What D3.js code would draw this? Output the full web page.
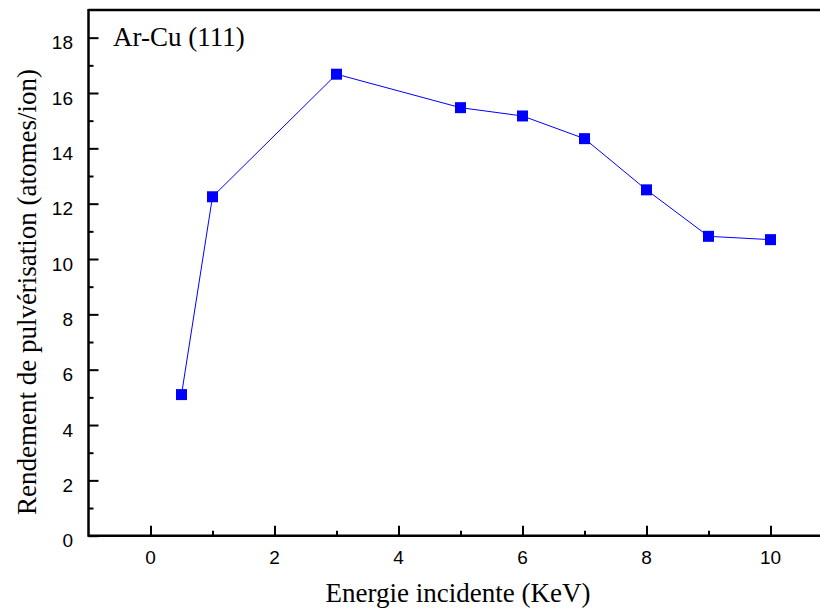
<!DOCTYPE html>
<html>
<head>
<meta charset="utf-8">
<script src="https://cdn.jsdelivr.net/npm/d3@7"></script>
<style>
  html, body { margin: 0; padding: 0; background: #fff; }
  svg { display: block; }
  .tick-label { font-family: "Liberation Sans", Arial, sans-serif; font-size: 19px; }
  .title { font-family: "Liberation Serif", "Times New Roman", Times, serif; font-size: 27px; }
</style>
</head>
<body>
<svg id="chart" width="820" height="610"></svg>
<script>
// Sputtering yield of Cu(111) under Ar bombardment vs incident energy
const energy = [0.5, 1, 3, 5, 6, 7, 8, 9, 10];
const yieldVals = [5.1, 12.25, 16.68, 15.47, 15.17, 14.35, 12.5, 10.82, 10.7];
const xTicks = [0, 2, 4, 6, 8, 10];
const yTicks = [0, 2, 4, 6, 8, 10, 12, 14, 16, 18];
const xMinor = [1, 3, 5, 7, 9];
const yMinor = [1, 3, 5, 7, 9, 11, 13, 15, 17];

const svg = d3.select("#chart");
const plotLeft = 88.5, plotTop = 10, plotBottom = 535.7;

const x = d3.scaleLinear().domain([-1, 11]).range([plotLeft, plotLeft + 62 * 12]);
const y = d3.scaleLinear().domain([0, 19]).range([plotBottom, plotTop]);

// Top frame line
svg.append("line")
  .attr("x1", plotLeft).attr("x2", 820)
  .attr("y1", plotTop).attr("y2", plotTop)
  .attr("stroke", "#000").attr("stroke-width", 2.5);

// Left axis with inward ticks
svg.append("g").attr("transform", `translate(${plotLeft},0)`)
  .call(d3.axisRight(y).tickValues(yTicks).tickSize(10).tickFormat(""))
  .call(g => g.select(".domain").remove())
  .selectAll(".tick line").attr("stroke-width", 2);
svg.append("g").attr("transform", `translate(${plotLeft},0)`)
  .call(d3.axisRight(y).tickValues(yMinor).tickSize(5).tickFormat(""))
  .call(g => g.select(".domain").remove())
  .selectAll(".tick line").attr("stroke-width", 2);
svg.append("line")
  .attr("x1", plotLeft).attr("x2", plotLeft)
  .attr("y1", plotTop - 1).attr("y2", plotBottom + 1)
  .attr("stroke", "#000").attr("stroke-width", 2.5);

svg.append("g").selectAll("text").data(yTicks).join("text")
  .attr("class", "tick-label")
  .attr("x", 73).attr("y", d => y(d) + 11.5)
  .attr("text-anchor", "end")
  .text(d => d);

// Bottom axis with inward ticks
svg.append("g").attr("transform", `translate(0,${plotBottom})`)
  .call(d3.axisTop(x).tickValues(xTicks).tickSize(10).tickFormat(""))
  .call(g => g.select(".domain").remove())
  .selectAll(".tick line").attr("stroke-width", 2);
svg.append("g").attr("transform", `translate(0,${plotBottom})`)
  .call(d3.axisTop(x).tickValues(xMinor).tickSize(5).tickFormat(""))
  .call(g => g.select(".domain").remove())
  .selectAll(".tick line").attr("stroke-width", 2);
svg.append("line")
  .attr("x1", plotLeft).attr("x2", 820)
  .attr("y1", plotBottom).attr("y2", plotBottom)
  .attr("stroke", "#000").attr("stroke-width", 2.5);

svg.append("g").selectAll("text").data(xTicks).join("text")
  .attr("class", "tick-label")
  .attr("x", d => x(d)).attr("y", 563.5)
  .attr("text-anchor", "middle")
  .text(d => d);

// Series line and square markers
const line = d3.line().x((d, i) => x(energy[i])).y(d => y(d));
svg.append("path")
  .datum(yieldVals)
  .attr("d", line)
  .attr("fill", "none")
  .attr("stroke", "#0000ff").attr("stroke-width", 1);

const s = 11;
svg.append("g").selectAll("rect").data(yieldVals).join("rect")
  .attr("x", (d, i) => x(energy[i]) - s / 2)
  .attr("y", d => y(d) - s / 2)
  .attr("width", s).attr("height", s)
  .attr("fill", "#0000ff");

// Titles
svg.append("text")
  .attr("class", "title")
  .attr("x", 113).attr("y", 46)
  .text("Ar-Cu (111)");

svg.append("text")
  .attr("class", "title")
  .attr("x", 458).attr("y", 602)
  .attr("text-anchor", "middle")
  .text("Energie incidente (KeV)");

svg.append("text")
  .attr("class", "title")
  .attr("transform", "translate(36,292) rotate(-90)")
  .attr("text-anchor", "middle")
  .text("Rendement de pulvérisation (atomes/ion)");
</script>
</body>
</html>
